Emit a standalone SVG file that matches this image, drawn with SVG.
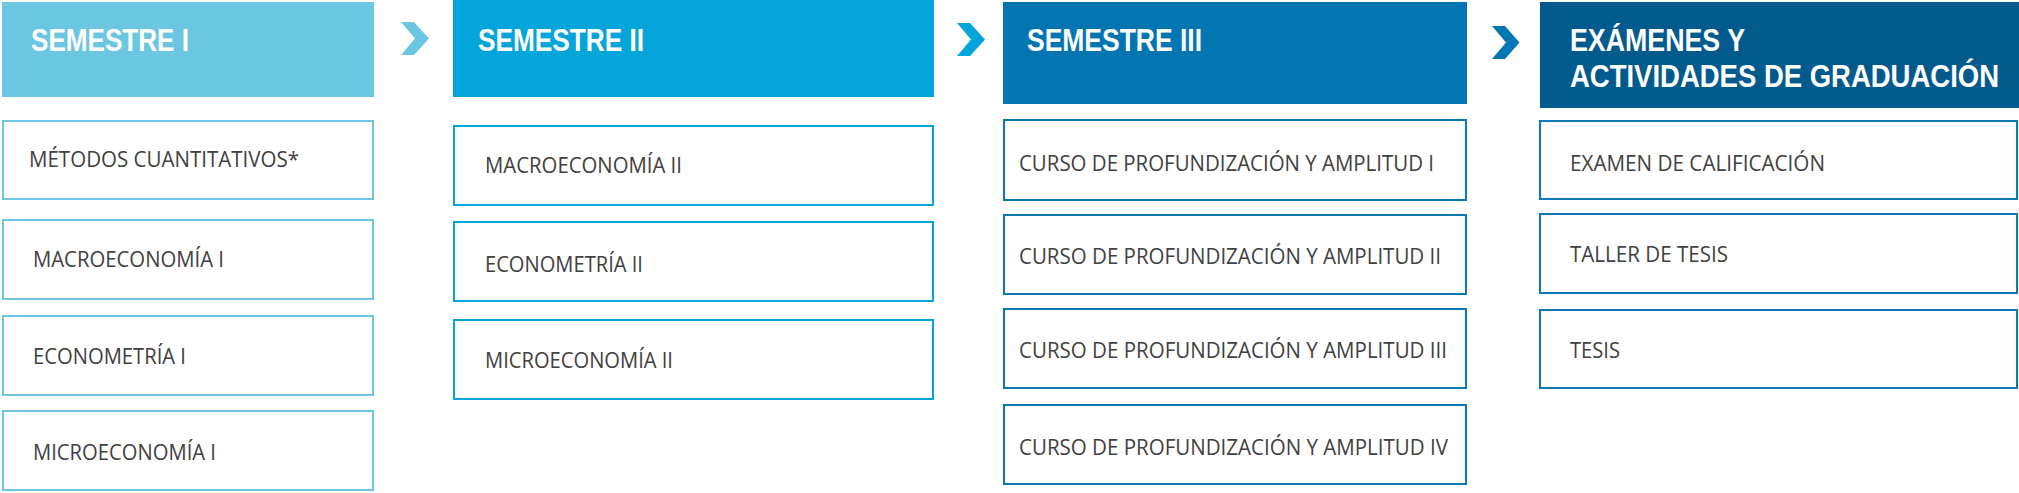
<svg xmlns="http://www.w3.org/2000/svg" width="2019" height="493" viewBox="0 0 2019 493">
<style>
.hd{font-family:"Liberation Sans",Arial,sans-serif;font-weight:700;font-size:31px;fill:#ffffff}
.hs{font-family:"Liberation Sans",Arial,sans-serif;font-weight:700;font-size:27px;fill:#ffffff}
.tx{font-family:"Open Sans","Liberation Sans",sans-serif;font-size:21px;fill:#414042}
.b{fill:#ffffff;stroke-width:2}
.c1{stroke:#6CC6E2}.c2{stroke:#04A5DB}.c3{stroke:#0B77B3}.c4{stroke:#0A78B4}
</style>
<rect width="2019" height="493" fill="#ffffff"/>
<g id="connectors">
<polygon points="401,22 414,22 429,38.5 414,55 401,55 415,38.5" fill="#6BC6E2"/>
<polygon points="957,23 970,23 985,39.5 970,56 957,56 971,39.5" fill="#03A4DA"/>
<polygon points="1492,26 1505,26 1519.5,42.5 1505,59 1492,59 1506,42.5" fill="#0377B3"/>
</g>
<g id="sem1">
<rect x="2" y="2" width="372" height="95" fill="#6BC6E2"/>
<text class="hd" x="31" y="51" textLength="158" lengthAdjust="spacingAndGlyphs">SEMESTRE I</text>
</g>
<g id="s1c1"><rect class="b c1" x="3" y="121" width="370" height="78"/><text class="tx" x="29" y="167" textLength="270" lengthAdjust="spacingAndGlyphs">MÉTODOS CUANTITATIVOS*</text></g>
<g id="s1c2"><rect class="b c1" x="3" y="220" width="370" height="79"/><text class="tx" x="33" y="267" textLength="191" lengthAdjust="spacingAndGlyphs">MACROECONOMÍA I</text></g>
<g id="s1c3"><rect class="b c1" x="3" y="316" width="370" height="79"/><text class="tx" x="33" y="364" textLength="153" lengthAdjust="spacingAndGlyphs">ECONOMETRÍA I</text></g>
<g id="s1c4"><rect class="b c1" x="3" y="411" width="370" height="79"/><text class="tx" x="33" y="460" textLength="183" lengthAdjust="spacingAndGlyphs">MICROECONOMÍA I</text></g>
<g id="sem2">
<rect x="453" y="0" width="481" height="97" fill="#04A5DA"/>
<text class="hd" x="478" y="51" textLength="166" lengthAdjust="spacingAndGlyphs">SEMESTRE II</text>
</g>
<g id="s2c1"><rect class="b c2" x="454" y="126" width="479" height="79"/><text class="tx" x="485" y="173" textLength="197" lengthAdjust="spacingAndGlyphs">MACROECONOMÍA II</text></g>
<g id="s2c2"><rect class="b c2" x="454" y="222" width="479" height="79"/><text class="tx" x="485" y="272" textLength="158" lengthAdjust="spacingAndGlyphs">ECONOMETRÍA II</text></g>
<g id="s2c3"><rect class="b c2" x="454" y="320" width="479" height="79"/><text class="tx" x="485" y="368" textLength="188" lengthAdjust="spacingAndGlyphs">MICROECONOMÍA II</text></g>
<g id="sem3">
<rect x="1003" y="2" width="464" height="102" fill="#0376B2"/>
<text class="hd" x="1027" y="51" textLength="175" lengthAdjust="spacingAndGlyphs">SEMESTRE III</text>
</g>
<g id="s3c1"><rect class="b c3" x="1004" y="120" width="462" height="80"/><text class="tx" x="1019" y="171" textLength="415" lengthAdjust="spacingAndGlyphs">CURSO DE PROFUNDIZACIÓN Y AMPLITUD I</text></g>
<g id="s3c2"><rect class="b c3" x="1004" y="215" width="462" height="79"/><text class="tx" x="1019" y="264" textLength="422" lengthAdjust="spacingAndGlyphs">CURSO DE PROFUNDIZACIÓN Y AMPLITUD II</text></g>
<g id="s3c3"><rect class="b c3" x="1004" y="309" width="462" height="79"/><text class="tx" x="1019" y="358" textLength="428" lengthAdjust="spacingAndGlyphs">CURSO DE PROFUNDIZACIÓN Y AMPLITUD III</text></g>
<g id="s3c4"><rect class="b c3" x="1004" y="405" width="462" height="79"/><text class="tx" x="1019" y="455" textLength="429" lengthAdjust="spacingAndGlyphs">CURSO DE PROFUNDIZACIÓN Y AMPLITUD IV</text></g>
<g id="grad">
<rect x="1540" y="2" width="479" height="106" fill="#035A8C"/>
<g transform="translate(1570,0) scale(1,1.15)">
<text class="hs" x="0" y="44.35" textLength="175" lengthAdjust="spacingAndGlyphs">EXÁMENES Y</text>
<text class="hs" x="0" y="75.65" textLength="429" lengthAdjust="spacingAndGlyphs">ACTIVIDADES DE GRADUACIÓN</text>
</g>
</g>
<g id="g1"><rect class="b c4" x="1540" y="121" width="477" height="78"/><text class="tx" x="1570" y="171" textLength="255" lengthAdjust="spacingAndGlyphs">EXAMEN DE CALIFICACIÓN</text></g>
<g id="g2"><rect class="b c4" x="1540" y="214" width="477" height="79"/><text class="tx" x="1570" y="262" textLength="158" lengthAdjust="spacingAndGlyphs">TALLER DE TESIS</text></g>
<g id="g3"><rect class="b c4" x="1540" y="310" width="477" height="78"/><text class="tx" x="1570" y="358" textLength="50" lengthAdjust="spacingAndGlyphs">TESIS</text></g>
</svg>
